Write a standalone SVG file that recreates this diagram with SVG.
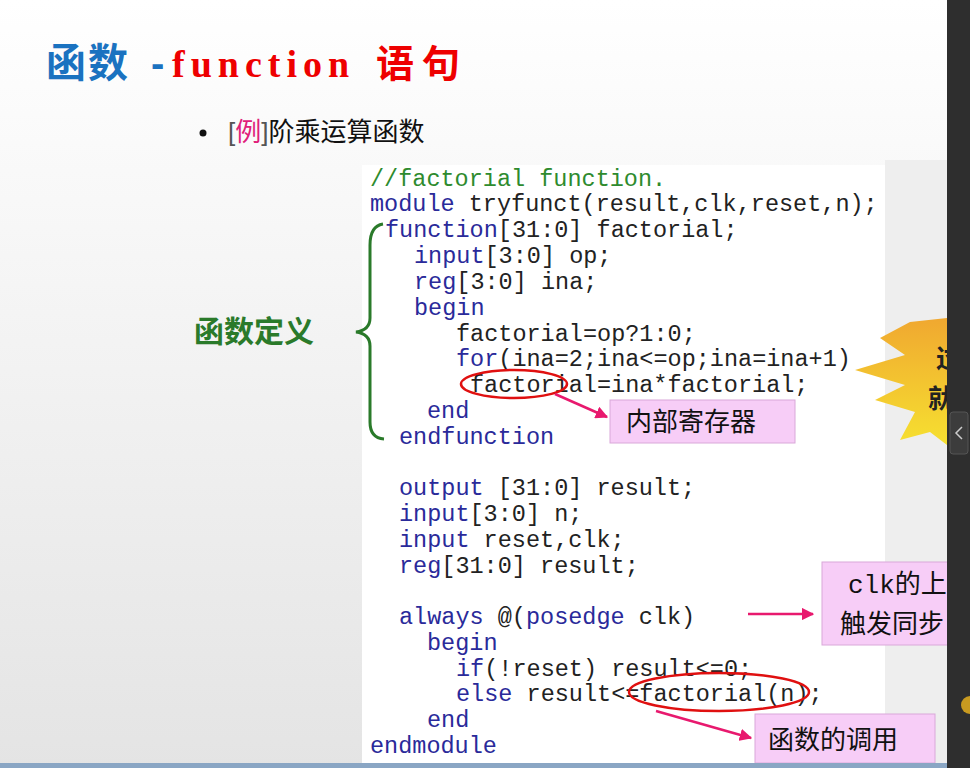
<svg xmlns="http://www.w3.org/2000/svg" width="970" height="768" viewBox="0 0 970 768">
<defs>
<linearGradient id="bg" x1="0" y1="0" x2="0" y2="1"><stop offset="0" stop-color="#ffffff"/><stop offset="1" stop-color="#e4e4e4"/></linearGradient>
<linearGradient id="star" x1="0" y1="0" x2="0" y2="1"><stop offset="0" stop-color="#f0a830"/><stop offset="1" stop-color="#f6e030"/></linearGradient>
<marker id="ah" viewBox="0 0 10 10" refX="9" refY="5" markerWidth="5" markerHeight="5" orient="auto"><path d="M0,0L10,5L0,10z" fill="#e8196e"/></marker>
</defs>
<style>
.c{font-family:"Liberation Mono",monospace;font-size:23.5px;fill:#222}
.k{fill:#2a2a9a}
.cm{fill:#2e8b2e}
.cj{font-family:"Noto Sans CJK SC",sans-serif}
.box{fill:#f7cdf7;stroke:#d9a8d9;stroke-width:1}
.lab{font-family:"Noto Sans CJK SC",sans-serif;font-size:26px;fill:#111}
.arr{stroke:#e8196e;stroke-width:2.5;fill:none;marker-end:url(#ah)}
.ell{fill:none;stroke:#e01010;stroke-width:2.5}
</style>
<rect width="970" height="768" fill="url(#bg)"/>
<rect x="885" y="160" width="62" height="608" fill="#eeeeee"/>
<rect x="362" y="165" width="523" height="603" fill="#ffffff"/>
<g id="title" font-weight="bold">
<text x="46" y="77" font-family="Noto Sans CJK SC,sans-serif" font-size="40" fill="#1a72c0" letter-spacing="2">函数</text>
<text x="151" y="77" font-family="Liberation Sans,sans-serif" font-size="40" fill="#1a72c0">-</text>
<text x="172" y="77" font-family="Liberation Serif,serif" font-size="38" fill="#ee0000" letter-spacing="6">function</text>
<text x="376" y="77" font-family="Noto Sans CJK SC,sans-serif" font-size="38" fill="#ee0000" letter-spacing="8">语句</text>
</g>
<g id="bullet">
<circle cx="203" cy="133" r="3.5" fill="#111"/>
<text x="228" y="141" font-size="26" fill="#111"><tspan font-family="Liberation Sans,sans-serif" font-weight="100" fill="#555">[</tspan><tspan class="cj" fill="#e0207a">例</tspan><tspan font-family="Liberation Sans,sans-serif" fill="#555">]</tspan><tspan class="cj">阶乘运算函数</tspan></text>
</g>
<g id="code" class="c">
<text x="370" y="186" class="cm">//factorial function.</text>
<text x="370" y="211"><tspan class="k">module</tspan> tryfunct(result,clk,reset,n);</text>
<text x="385" y="237"><tspan class="k">function</tspan>[31:0] factorial;</text>
<text x="414" y="263"><tspan class="k">input</tspan>[3:0] op;</text>
<text x="414" y="289"><tspan class="k">reg</tspan>[3:0] ina;</text>
<text x="414" y="315" class="k">begin</text>
<text x="456" y="341">factorial=op?1:0;</text>
<text x="456" y="366"><tspan class="k">for</tspan>(ina=2;ina&lt;=op;ina=ina+1)</text>
<text x="470" y="392">factorial=ina*factorial;</text>
<text x="427" y="418" class="k">end</text>
<text x="399" y="444" class="k">endfunction</text>
<text x="399" y="495"><tspan class="k">output</tspan> [31:0] result;</text>
<text x="399" y="521"><tspan class="k">input</tspan>[3:0] n;</text>
<text x="399" y="547"><tspan class="k">input</tspan> reset,clk;</text>
<text x="399" y="573"><tspan class="k">reg</tspan>[31:0] result;</text>
<text x="399" y="624"><tspan class="k">always</tspan> @(<tspan class="k">posedge</tspan> clk)</text>
<text x="427" y="650" class="k">begin</text>
<text x="456" y="676"><tspan class="k">if</tspan>(!reset) result&lt;=0;</text>
<text x="456" y="701"><tspan class="k">else</tspan> result&lt;=factorial(n);</text>
<text x="427" y="727" class="k">end</text>
<text x="370" y="753" class="k">endmodule</text>
</g>
<g id="funcdef">
<path d="M383,224 Q370,226 370,245 L370,318 Q370,330 356,332 Q370,334 370,346 L370,422 Q370,438 384,439" fill="none" stroke="#2a7a2a" stroke-width="3"/>
<text x="194" y="342" font-family="Noto Sans CJK SC,sans-serif" font-weight="bold" font-size="30" fill="#2a7a2a">函数定义</text>
</g>
<g id="star">
<polygon points="910,322 947,318 947,445 930,432 900,440 915,412 875,400 905,385 855,370 905,355 880,338" fill="url(#star)"/>
<text x="928" y="408" class="cj" font-size="26" font-weight="bold" fill="#222">就</text>
<text x="936" y="368" class="cj" font-size="26" font-weight="bold" fill="#222">过</text>
</g>
<g id="reg-label"><rect class="box" x="610" y="400" width="185" height="43"/><text class="lab" x="626" y="431">内部寄存器</text></g>
<g id="clk-label"><rect class="box" x="822" y="562" width="130" height="83"/><text class="lab" x="848" y="593"><tspan font-family="Liberation Mono,monospace">clk</tspan>的上</text><text class="lab" x="840" y="633">触发同步</text></g>
<g id="call-label"><rect class="box" x="755" y="714" width="180" height="49"/><text class="lab" x="768" y="749">函数的调用</text></g>
<g id="connectors">
<ellipse class="ell" cx="514" cy="384" rx="53" ry="14"/>
<ellipse class="ell" cx="719" cy="692" rx="90" ry="19"/>
<path class="arr" d="M555,394 L607,417"/>
<path class="arr" d="M656,711 L751,738"/>
<path class="arr" d="M748,614 L813,614"/>
</g>
<g id="sidebar">
<rect x="947" y="0" width="23" height="768" fill="#2e2e2e"/>
<rect x="950" y="412" width="18" height="42" rx="3" fill="#3c3c3c" stroke="#555"/>
<path d="M962,427 L956,433 L962,439" fill="none" stroke="#ccc" stroke-width="1.5"/>
<circle cx="970" cy="705" r="9" fill="#c89a20"/>
<rect x="0" y="763" width="947" height="5" fill="#8aa6c4"/>
</g>
</svg>
